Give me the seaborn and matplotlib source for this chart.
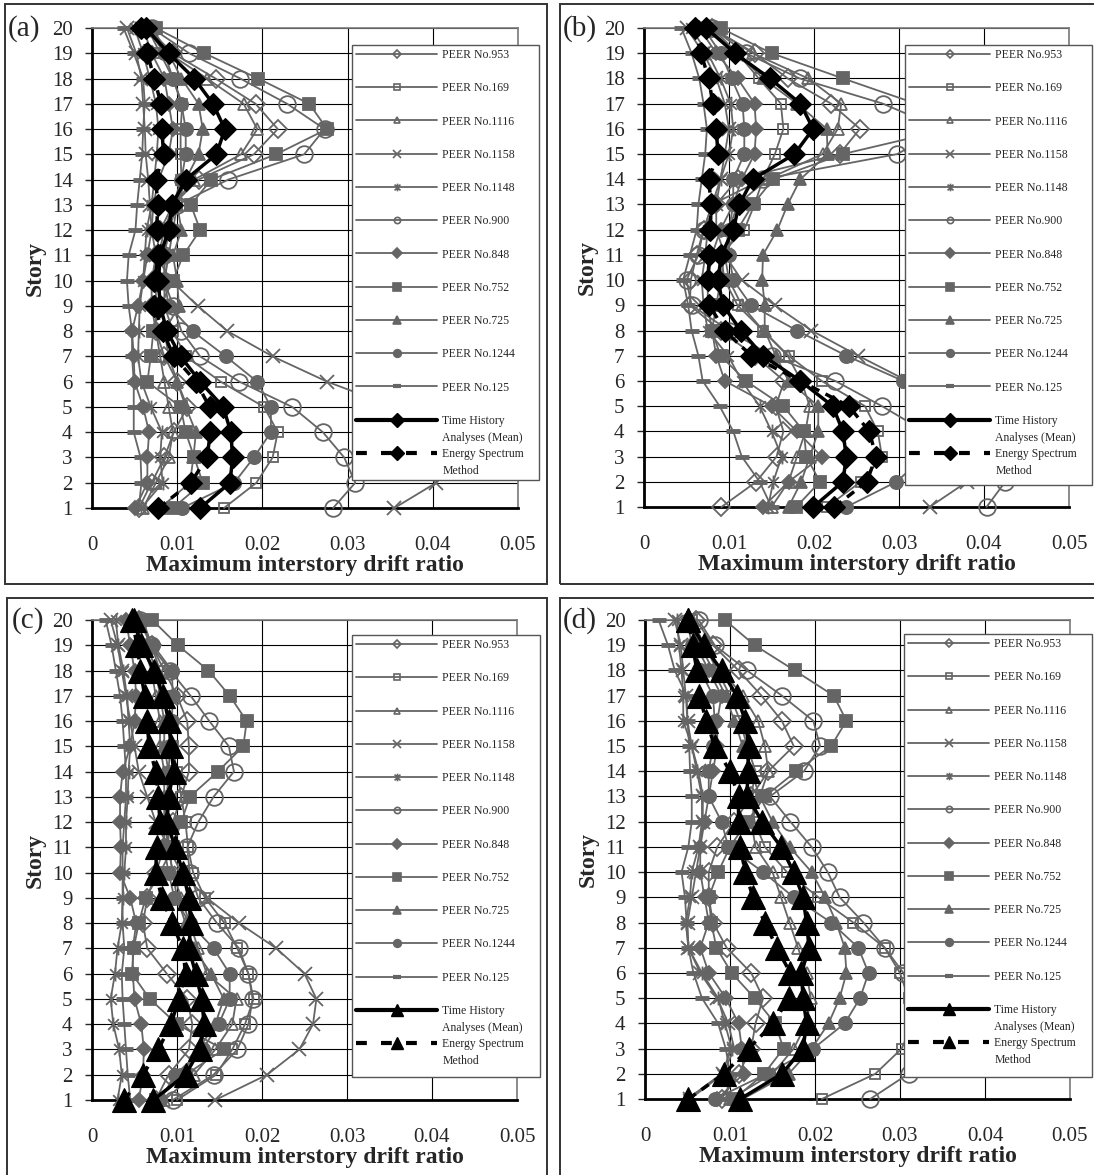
import matplotlib
matplotlib.use("Agg")
import matplotlib.pyplot as plt
from matplotlib.lines import Line2D
from matplotlib.patches import Rectangle
from matplotlib.path import Path
import seaborn as sns

# ---------------- data (index 0 = story 1 ... index 19 = story 20) ----------------
stories = list(range(1, 21))
record_ids = ["953", "169", "1116", "1158", "1148", "900", "848", "752", "725", "1244", "125"]
record_labels = ["PEER No.953", "PEER No.169", "PEER No.1116", "PEER No.1158", "PEER No.1148",
                 "PEER No.900", "PEER No.848", "PEER No.752", "PEER No.725", "PEER No.1244",
                 "PEER No.125"]
mean_label_lines = ["Time History", "Analyses (Mean)"]
energy_label_lines = ["Energy Spectrum", "Method"]
panel_tags = ["(a)", "(b)", "(c)", "(d)"]
x_ticks = [0, 0.01, 0.02, 0.03, 0.04, 0.05]
x_tick_labels = ["0", "0.01", "0.02", "0.03", "0.04", "0.05"]
x_label = "Maximum interstory drift ratio"
y_label = "Story"

# panel (a)
a_953 = [.0055, .0070, .0085, .0096, .0112, .0100, .0085, .0075, .0070, .0070, .0075, .0080, .0095, .0125, .0190, .0218, .0192, .0145, .0095, .0065]
a_169 = [.0155, .0193, .0212, .0218, .0202, .0151, .0110, .0095, .0085, .0085, .0090, .0095, .0100, .0105, .0104, .0104, .0106, .0095, .0080, .0065]
a_1116 = [.0060, .0075, .0090, .0095, .0090, .0085, .0080, .0075, .0075, .0075, .0078, .0085, .0095, .0120, .0175, .0194, .0178, .0135, .0090, .0065]
a_1158 = [.0355, .0404, .0420, .0405, .0355, .0276, .0212, .0159, .0124, .0093, .0075, .0070, .0068, .0066, .0063, .0062, .0060, .0058, .0052, .0041]
a_1148 = [.0058, .0083, .0080, .0082, .0069, .0058, .0054, .0055, .0056, .0060, .0062, .0064, .0070, .0073, .0076, .0078, .0075, .0068, .0060, .0050]
a_900 = [.0283, .0309, .0296, .0271, .0235, .0173, .0127, .0105, .0095, .0085, .0085, .0090, .0100, .0160, .0249, .0273, .0229, .0174, .0114, .0070]
a_848 = [.0051, .0065, .0065, .0067, .0060, .0050, .0049, .0047, .0054, .0060, .0065, .0070, .0072, .0078, .0090, .0095, .0090, .0085, .0070, .0060]
a_752 = [.0095, .0130, .0120, .0110, .0104, .0065, .0069, .0072, .0080, .0095, .0107, .0127, .0116, .0140, .0216, .0276, .0255, .0195, .0132, .0075]
a_725 = [.0080, .0115, .0119, .0122, .0110, .0100, .0090, .0085, .0102, .0100, .0095, .0105, .0100, .0110, .0125, .0130, .0125, .0105, .0090, .0070]
a_1244 = [.0106, .0167, .0190, .0210, .0210, .0194, .0157, .0118, .0090, .0085, .0085, .0090, .0095, .0105, .0110, .0110, .0105, .0095, .0085, .0065]
a_125 = [.0055, .0058, .0057, .0049, .0049, .0049, .0047, .0047, .0043, .0041, .0043, .0051, .0053, .0056, .0059, .0060, .0062, .0060, .0049, .0037]
a_mean = [.0127, .0162, .0165, .0163, .0154, .0127, .0104, .0088, .0080, .0078, .0080, .0090, .0094, .0110, .0146, .0156, .0142, .0120, .0090, .0063]
a_energy = [.0078, .0116, .0135, .0139, .0138, .0122, .0096, .0083, .0073, .0073, .0078, .0076, .0077, .0075, .0084, .0082, .0081, .0073, .0065, .0057]

# panel (b)
b_953 = [.0091, .0132, .0156, .0164, .0155, .0165, .0130, .0090, .0054, .0055, .0062, .0070, .0085, .0110, .0230, .0254, .0220, .0169, .0130, .0080]
b_169 = [.0215, .0255, .0280, .0275, .0260, .0209, .0170, .0140, .0110, .0095, .0090, .0118, .0130, .0140, .0154, .0164, .0161, .0135, .0110, .0075]
b_1116 = [.0150, .0170, .0180, .0190, .0195, .0185, .0169, .0140, .0115, .0100, .0095, .0100, .0110, .0145, .0210, .0228, .0232, .0193, .0128, .0080]
b_1158 = [.0336, .0380, .0400, .0390, .0360, .0310, .0252, .0197, .0154, .0115, .0095, .0085, .0085, .0090, .0095, .0100, .0095, .0085, .0070, .0050]
b_1148 = [.0146, .0152, .0162, .0150, .0136, .0115, .0099, .0075, .0070, .0068, .0072, .0075, .0080, .0090, .0100, .0105, .0102, .0090, .0075, .0055]
b_900 = [.0403, .0425, .0380, .0330, .0280, .0225, .0150, .0100, .0056, .0050, .0064, .0070, .0080, .0140, .0298, .0350, .0281, .0183, .0120, .0080]
b_848 = [.0140, .0170, .0209, .0180, .0150, .0095, .0085, .0080, .0075, .0075, .0080, .0090, .0105, .0115, .0130, .0132, .0130, .0110, .0085, .0065]
b_752 = [.0179, .0207, .0191, .0188, .0164, .0120, .0090, .0080, .0085, .0090, .0095, .0110, .0128, .0152, .0234, .0360, .0320, .0234, .0150, .0090]
b_725 = [.0170, .0185, .0195, .0205, .0205, .0170, .0155, .0142, .0142, .0139, .0140, .0157, .0169, .0184, .0216, .0215, .0180, .0140, .0110, .0080]
b_1244 = [.0238, .0297, .0330, .0340, .0330, .0305, .0238, .0180, .0126, .0105, .0100, .0100, .0105, .0105, .0118, .0118, .0116, .0103, .0090, .0070]
b_125 = [.0150, .0136, .0115, .0105, .0089, .0069, .0064, .0056, .0052, .0046, .0054, .0062, .0064, .0068, .0072, .0074, .0070, .0065, .0056, .0044]
b_mean = [.0199, .0234, .0238, .0234, .0222, .0184, .0140, .0114, .0093, .0087, .0091, .0105, .0112, .0128, .0177, .0199, .0184, .0148, .0107, .0073]
b_energy = [.0224, .0262, .0273, .0265, .0241, .0184, .0126, .0095, .0077, .0075, .0077, .0078, .0079, .0076, .0087, .0085, .0081, .0076, .0067, .0060]

# panel (c)
c_953 = [.0075, .0090, .0114, .0118, .0112, .0088, .0065, .0060, .0065, .0075, .0085, .0095, .0105, .0114, .0114, .0112, .0100, .0085, .0070, .0055]
c_169 = [.0100, .0146, .0165, .0180, .0190, .0184, .0171, .0156, .0133, .0119, .0113, .0110, .0105, .0100, .0095, .0090, .0085, .0080, .0070, .0060]
c_1116 = [.0085, .0120, .0145, .0165, .0170, .0135, .0125, .0115, .0105, .0095, .0090, .0085, .0085, .0085, .0080, .0080, .0075, .0070, .0060, .0050]
c_1158 = [.0145, .0206, .0244, .0260, .0264, .0250, .0217, .0173, .0135, .0105, .0090, .0075, .0065, .0055, .0050, .0045, .0040, .0035, .0030, .0022]
c_1148 = [.0030, .0035, .0032, .0025, .0022, .0027, .0030, .0035, .0036, .0038, .0040, .0040, .0042, .0043, .0045, .0043, .0041, .0037, .0031, .0028]
c_900 = [.0095, .0143, .0171, .0184, .0189, .0184, .0173, .0147, .0125, .0115, .0112, .0125, .0143, .0167, .0161, .0138, .0116, .0092, .0069, .0057]
c_848 = [.0055, .0060, .0061, .0058, .0050, .0048, .0048, .0052, .0045, .0033, .0034, .0033, .0033, .0036, .0045, .0050, .0052, .0050, .0045, .0040]
c_752 = [.0075, .0110, .0155, .0100, .0068, .0047, .0049, .0055, .0063, .0080, .0095, .0105, .0115, .0148, .0178, .0182, .0162, .0137, .0101, .0071]
c_725 = [.0075, .0105, .0125, .0145, .0155, .0140, .0120, .0110, .0100, .0095, .0090, .0090, .0090, .0090, .0085, .0085, .0080, .0075, .0065, .0050]
c_1244 = [.0080, .0098, .0130, .0149, .0162, .0162, .0143, .0115, .0097, .0090, .0085, .0085, .0088, .0090, .0092, .0094, .0095, .0094, .0072, .0055]
c_125 = [.0045, .0042, .0040, .0038, .0036, .0035, .0038, .0036, .0036, .0036, .0036, .0038, .0040, .0040, .0038, .0036, .0033, .0028, .0023, .0016]
c_mean = [.0072, .0110, .0127, .0132, .0129, .0122, .0114, .0116, .0114, .0107, .0098, .0088, .0090, .0096, .0093, .0090, .0084, .0073, .0058, .0049]
c_energy = [.0038, .0060, .0078, .0093, .0102, .0110, .0107, .0094, .0082, .0075, .0076, .0080, .0078, .0075, .0067, .0065, .0062, .0057, .0053, .0047]

# panel (d)
d_953 = [.0090, .0110, .0125, .0130, .0139, .0125, .0096, .0080, .0075, .0075, .0085, .0105, .0125, .0145, .0175, .0161, .0137, .0110, .0080, .0060]
d_169 = [.0208, .0271, .0302, .0315, .0310, .0300, .0282, .0245, .0204, .0167, .0141, .0129, .0125, .0130, .0120, .0112, .0100, .0085, .0070, .0055]
d_1116 = [.0100, .0150, .0175, .0190, .0195, .0190, .0180, .0170, .0160, .0150, .0130, .0125, .0135, .0145, .0141, .0133, .0115, .0090, .0070, .0055]
d_1158 = [.0053, .0092, .0105, .0098, .0085, .0065, .0051, .0050, .0055, .0060, .0065, .0068, .0068, .0063, .0055, .0050, .0048, .0045, .0042, .0035]
d_1148 = [.0050, .0090, .0102, .0094, .0086, .0067, .0051, .0048, .0053, .0055, .0063, .0067, .0067, .0061, .0055, .0045, .0045, .0043, .0040, .0038]
d_900 = [.0265, .0310, .0325, .0325, .0315, .0304, .0282, .0257, .0229, .0215, .0196, .0171, .0147, .0187, .0206, .0198, .0161, .0120, .0082, .0063]
d_848 = [.0085, .0116, .0114, .0110, .0095, .0075, .0065, .0075, .0070, .0065, .0065, .0070, .0075, .0080, .0085, .0085, .0090, .0075, .0060, .0050]
d_752 = [.0105, .0140, .0163, .0153, .0129, .0102, .0084, .0078, .0075, .0086, .0100, .0120, .0141, .0178, .0219, .0237, .0222, .0176, .0129, .0094]
d_725 = [.0115, .0169, .0196, .0216, .0229, .0237, .0235, .0225, .0212, .0196, .0170, .0150, .0135, .0125, .0115, .0105, .0095, .0080, .0065, .0050]
d_1244 = [.0082, .0143, .0198, .0235, .0253, .0263, .0251, .0219, .0175, .0139, .0098, .0090, .0075, .0075, .0080, .0082, .0080, .0065, .0055, .0050]
d_125 = [.0095, .0100, .0095, .0086, .0067, .0057, .0051, .0049, .0047, .0043, .0051, .0055, .0055, .0053, .0052, .0050, .0049, .0035, .0027, .0016]
d_mean = [.0112, .0161, .0186, .0190, .0186, .0184, .0193, .0190, .0186, .0175, .0160, .0138, .0120, .0121, .0122, .0118, .0108, .0090, .0069, .0051]
d_energy = [.0051, .0093, .0122, .0151, .0169, .0171, .0155, .0141, .0127, .0118, .0112, .0110, .0110, .0100, .0082, .0072, .0064, .0061, .0056, .0051]

panel_records = [
    [a_953, a_169, a_1116, a_1158, a_1148, a_900, a_848, a_752, a_725, a_1244, a_125],
    [b_953, b_169, b_1116, b_1158, b_1148, b_900, b_848, b_752, b_725, b_1244, b_125],
    [c_953, c_169, c_1116, c_1158, c_1148, c_900, c_848, c_752, c_725, c_1244, c_125],
    [d_953, d_169, d_1116, d_1158, d_1148, d_900, d_848, d_752, d_725, d_1244, d_125],
]
panel_mean = [a_mean, b_mean, c_mean, d_mean]
panel_energy = [a_energy, b_energy, c_energy, d_energy]

# ---------------- styling ----------------
sns.set_style("white")
plt.rcParams["font.family"] = ["Liberation Serif", "DejaVu Serif"]

GREY = "#656565"
AST = Path([(-1, -1), (1, 1), (-1, 1), (1, -1), (0, -1.3), (0, 1.3)],
           [Path.MOVETO, Path.LINETO] * 3)

rec_style = {
    "953": dict(marker="D", markersize=9.5, markerfacecolor="none"),
    "169": dict(marker="s", markersize=7.5, markerfacecolor="none"),
    "1116": dict(marker="^", markersize=9, markerfacecolor="none"),
    "1158": dict(marker="x", markersize=10, markerfacecolor=GREY),
    "1148": dict(marker=AST, markersize=10, markerfacecolor=GREY),
    "900": dict(marker="o", markersize=12, markerfacecolor="none"),
    "848": dict(marker="D", markersize=7.5, markerfacecolor=GREY),
    "752": dict(marker="s", markersize=8, markerfacecolor=GREY),
    "725": dict(marker="^", markersize=9, markerfacecolor=GREY),
    "1244": dict(marker="o", markersize=9.5, markerfacecolor=GREY),
    "125": dict(marker="_", markersize=10, markerfacecolor=GREY),
}
leg_ms = {"953": 4.5, "169": 4.5, "1116": 5, "1158": 5.5, "1148": 5.5, "900": 4.5,
          "848": 5, "752": 5.5, "725": 6, "1244": 5.5, "125": 6}

LEG_FONT = {"family": "Liberation Serif", "size": 8.5}

W, H = 1094, 1175
fig = plt.figure(figsize=(W / 100, H / 100), dpi=100)


def fx(px):
    return px / W


def fy(py):
    return 1 - py / H


layout = [
    dict(box=(5, 4, 547, 584), ax=(92, 28, 518, 508), leg=(352, 45, 539, 480), tag=(8, 29), mk="D", mms=11.5),
    dict(box=(560, 4, 1100, 584), ax=(644, 28, 1069, 507), leg=(905, 45, 1092, 485), tag=(563, 29), mk="D", mms=11.5),
    dict(box=(7, 598, 547, 1185), ax=(92, 620, 517, 1100), leg=(352, 635, 540, 1077), tag=(12, 621), mk="^", mms=17),
    dict(box=(560, 598, 1100, 1185), ax=(645, 620, 1070, 1099), leg=(904, 634, 1092, 1077), tag=(563, 621), mk="^", mms=17),
]

legends = []
for i, lay in enumerate(layout):
    bx0, by0, bx1, by1 = lay["box"]
    fig.add_artist(Rectangle((fx(bx0), fy(by1)), fx(bx1) - fx(bx0), (by1 - by0) / H,
                             transform=fig.transFigure, fill=False, lw=1.4,
                             edgecolor="#333333", zorder=0))
    x0, y0, x1, y1 = lay["ax"]
    ax = fig.add_axes([fx(x0), fy(y1), fx(x1) - fx(x0), (y1 - y0) / H])

    for rid, vals in zip(record_ids, panel_records[i]):
        st = rec_style[rid]
        mew = 3.5 if rid == "125" else 1.3
        sns.lineplot(x=vals, y=stories, orient="y", sort=False, estimator=None, ax=ax,
                     color=GREY, linewidth=1.3, markeredgecolor=GREY,
                     markeredgewidth=mew, clip_on=False, zorder=3, **st)

    sns.lineplot(x=panel_energy[i], y=stories, orient="y", sort=False, estimator=None, ax=ax,
                 color="black", linewidth=2.5, linestyle=(0, (2.6, 2.0)), marker=lay["mk"],
                 markersize=lay["mms"], markerfacecolor="black", markeredgecolor="black",
                 markeredgewidth=0.8, clip_on=False, zorder=4)
    sns.lineplot(x=panel_mean[i], y=stories, orient="y", sort=False, estimator=None, ax=ax,
                 color="black", linewidth=2.5, marker=lay["mk"],
                 markersize=lay["mms"], markerfacecolor="black", markeredgecolor="black",
                 markeredgewidth=0.8, clip_on=False, zorder=4)

    ax.set_xlim(0, 0.05)
    ax.set_ylim(1, 20)
    ax.set_xticks(x_ticks)
    ax.set_xticklabels(x_tick_labels)
    ax.set_yticks(stories)
    ax.set_yticklabels([str(s) for s in stories])
    ax.grid(True, color="black", linewidth=0.8)
    ax.set_axisbelow(True)
    for side in ("left", "bottom"):
        ax.spines[side].set_color("black")
        ax.spines[side].set_linewidth(2.0)
    for side in ("top", "right"):
        ax.spines[side].set_color("#7a7a7a")
        ax.spines[side].set_linewidth(1.2)
        ax.spines[side].set_visible(True)
    ax.tick_params(axis="x", length=0, pad=20, labelsize=15)
    ax.tick_params(axis="y", length=5, width=1, direction="out", pad=9, labelsize=15, left=True)
    ax.set_xlabel(x_label, fontweight="bold", fontsize=17, labelpad=0)
    ax.set_ylabel(y_label, fontweight="bold", fontsize=17, labelpad=4)

    tx, ty = lay["tag"]
    fig.text(fx(tx), fy(ty), panel_tags[i], fontsize=21, ha="left", va="center")

    # legend frame drawn as a rectangle, entries via ax.legend
    lx0, ly0, lx1, ly1 = lay["leg"]
    ax.add_patch(Rectangle((fx(lx0), fy(ly1)), fx(lx1) - fx(lx0), (ly1 - ly0) / H,
                           transform=fig.transFigure, facecolor="white",
                           edgecolor="#555555", lw=1.0, clip_on=False, zorder=9))
    handles = []
    for rid in record_ids:
        st = dict(rec_style[rid])
        st["markersize"] = leg_ms[rid]
        handles.append(Line2D([], [], color=GREY, linewidth=1.3, markeredgecolor=GREY,
                              markeredgewidth=3 if rid == "125" else 1.2, **st))
    lms = 7 if lay["mk"] == "D" else 9
    handles.append(Line2D([], [], color="black", linewidth=3, marker=lay["mk"], markersize=lms,
                          markerfacecolor="black", markeredgecolor="black"))
    handles.append(Line2D([], [], color="black", linewidth=3, linestyle=(0, (2.6, 3.4)),
                          marker=lay["mk"], markersize=lms,
                          markerfacecolor="black", markeredgecolor="black"))
    labels = record_labels + [mean_label_lines[0], energy_label_lines[0]]
    leg = ax.legend(handles, labels, loc="upper left",
                    bbox_to_anchor=(fx(lx0), fy(ly0)),
                    bbox_transform=fig.transFigure, borderaxespad=0,
                    frameon=False, prop=LEG_FONT,
                    handlelength=6.85, handletextpad=0.45, labelspacing=1.80, borderpad=0.35)
    leg.set_zorder(10)
    legends.append(leg)

# second lines of the two-line legend labels, placed under the first lines
fig.canvas.draw()
renderer = fig.canvas.get_renderer()
for leg in legends:
    texts = leg.get_texts()
    for t, second in ((texts[11], mean_label_lines[1]), (texts[12], energy_label_lines[1])):
        bb = t.get_window_extent(renderer)
        yc = (bb.y0 + bb.y1) / 2 - 17
        fig.text(bb.x0 / W, yc / H, second, fontsize=8.5, family="Liberation Serif",
                 ha="left", va="center", zorder=11)

fig.savefig("out.png", dpi=100)
